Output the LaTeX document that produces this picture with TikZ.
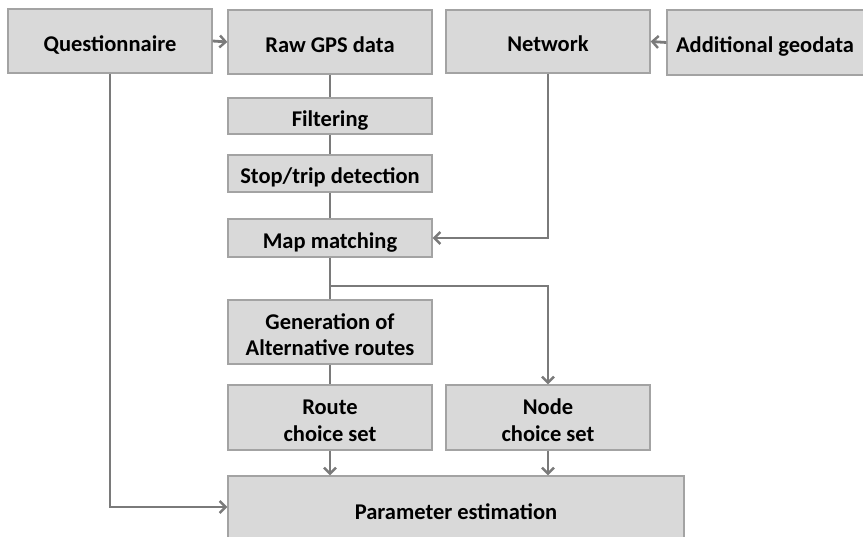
\documentclass[tikz,border=0pt]{standalone}
\usepackage{fontspec}
\setmainfont{Carlito}
\usetikzlibrary{arrows.meta}
\definecolor{boxfill}{HTML}{D9D9D9}
\definecolor{boxline}{HTML}{A3A3A3}
\definecolor{conn}{HTML}{7A7A7A}
\newcommand{\boxtxt}[1]{\raisebox{-10.3pt}[0pt][0pt]{\begin{tabular}{@{}c@{}}#1\end{tabular}}}
\tikzset{
  box/.style={draw=boxline, line width=1.3pt, fill=boxfill, minimum width=204pt, inner sep=0pt,
    font=\fontsize{22.5}{26.5}\selectfont\bfseries, align=center, text=black},
  link/.style={draw=conn, line width=2.8pt},
  arr/.style={link, -{Straight Barb[length=6pt,width=12pt,line width=2.4pt]}}
}
\begin{document}
\begin{tikzpicture}[x=1pt,y=1pt]
\useasboundingbox (0,0) rectangle (863,537);
\begin{scope}
\clip (0,0) rectangle (863,537);
\node[box, minimum height=64pt] (q) at (110,496) {\boxtxt{Questionnaire}};
\node[box, minimum height=64pt] (raw) at (330,495) {\boxtxt{Raw GPS data}};
\node[box, minimum height=63pt] (net) at (548,495.5) {\boxtxt{Network}};
\node[box, minimum height=65pt, minimum width=200pt] (add) at (767,494.5) {\boxtxt{\hspace*{-4pt}Additional geodata}};
\node[box, minimum height=36pt] (filt) at (330,421) {\boxtxt{Filtering}};
\node[box, minimum height=37pt] (stop) at (330,363.5) {\boxtxt{Stop/trip detection}};
\node[box, minimum height=38pt] (map) at (330,299) {\boxtxt{Map matching}};
\node[box, minimum height=64pt] (gen) at (330,205) {\boxtxt{Generation of\\Alternative routes}};
\node[box, minimum height=65pt] (route) at (330,119.5) {\boxtxt{Route\\choice set}};
\node[box, minimum height=65pt] (ncs) at (548,119.5) {\boxtxt{Node\\choice set}};
\node[box, minimum height=66pt, minimum width=456pt] (param) at (456,28) {\boxtxt{Parameter estimation}};
\coordinate (br) at (330,251);
\draw[arr] (q.east) -- (raw.west);
\draw[arr] (add.west) -- (net.east);
\draw[link] (raw) -- (filt);
\draw[link] (filt) -- (stop);
\draw[link] (stop) -- (map);
\draw[link] (map) -- (gen);
\draw[link] (gen) -- (route);
\draw[arr] (net.south) |- (map.east);
\draw[arr] (br) -| (ncs.north);
\draw[arr] (route) -- (route.south |- param.north);
\draw[arr] (ncs) -- (ncs.south |- param.north);
\draw[arr] (q.south) |- (param.west |- 0,30);
\end{scope}
\end{tikzpicture}
\end{document}
